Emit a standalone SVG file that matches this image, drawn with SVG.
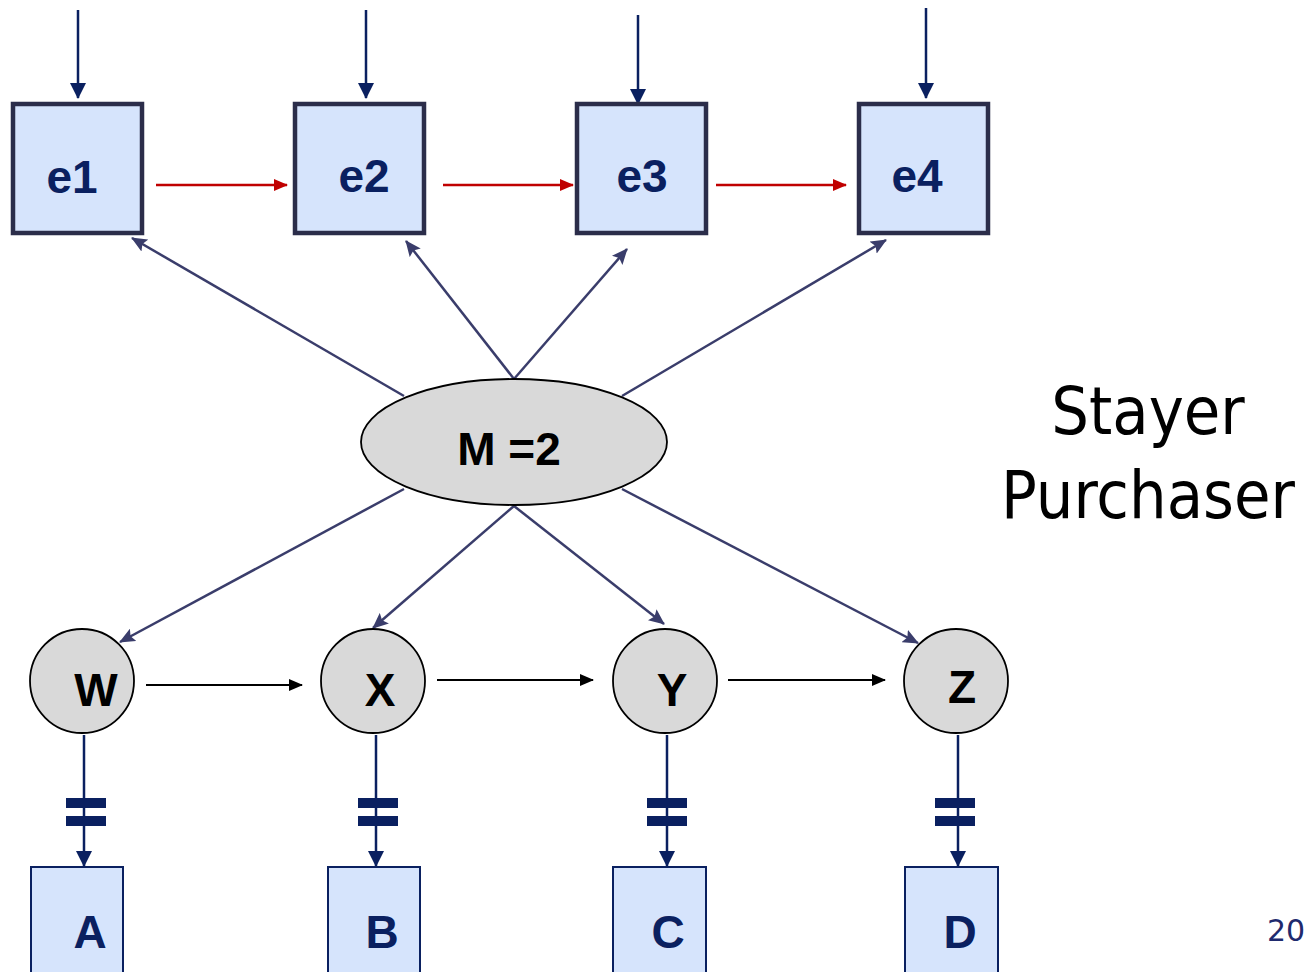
<svg xmlns="http://www.w3.org/2000/svg" width="1316" height="972" viewBox="0 0 1316 972">
  <style>
    .ebox { fill: #d6e4fc; stroke: #2b2d4a; stroke-width: 4.5; }
    .obox { fill: #d6e4fc; stroke: #0a2060; stroke-width: 2; }
    .lat { fill: #d9d9d9; stroke: #000; stroke-width: 1.8; }
    .lbl { font-family: "Liberation Sans", Arial, sans-serif; font-weight: bold; font-size: 46px; text-anchor: middle; }
    .navy { fill: #0a2060; }
    .blk { fill: #000; }
    .in { stroke: #0a2060; stroke-width: 2.5; fill: none; }
    .red { stroke: #c00000; stroke-width: 2.5; fill: none; }
    .slate { stroke: #3a3d6b; stroke-width: 2.5; fill: none; }
    .black { stroke: #000; stroke-width: 2.2; fill: none; }
    .bar { fill: #0a2060; }
  </style>
  <defs>
    <marker id="hNavy" markerUnits="userSpaceOnUse" markerWidth="16" markerHeight="16" refX="15" refY="8" orient="auto">
      <path d="M0,0 L16,8 L0,16 z" fill="#0a2060"/>
    </marker>
    <marker id="hRed" markerUnits="userSpaceOnUse" markerWidth="14" markerHeight="14" refX="13" refY="7" orient="auto">
      <path d="M0,1 L14,7 L0,13 z" fill="#c00000"/>
    </marker>
    <marker id="hSlate" markerUnits="userSpaceOnUse" markerWidth="16" markerHeight="14" refX="15" refY="7" orient="auto">
      <path d="M0,0 L16,7 L0,14 L3,7 z" fill="#3a3d6b"/>
    </marker>
    <marker id="hBlack" markerUnits="userSpaceOnUse" markerWidth="14" markerHeight="12" refX="13" refY="6" orient="auto">
      <path d="M0,0 L14,6 L0,12 z" fill="#000"/>
    </marker>
  </defs>

  <g id="connectors">
    <!-- incoming arrows on e boxes -->
    <line class="in" x1="78" y1="10" x2="78" y2="98" marker-end="url(#hNavy)"/>
    <line class="in" x1="366" y1="10" x2="366" y2="98" marker-end="url(#hNavy)"/>
    <line class="in" x1="638" y1="15" x2="638" y2="104" marker-end="url(#hNavy)"/>
    <line class="in" x1="926" y1="8" x2="926" y2="98" marker-end="url(#hNavy)"/>
    <!-- e chain -->
    <line class="red" x1="156" y1="185" x2="287" y2="185" marker-end="url(#hRed)"/>
    <line class="red" x1="443" y1="185" x2="573" y2="185" marker-end="url(#hRed)"/>
    <line class="red" x1="716" y1="185" x2="846" y2="185" marker-end="url(#hRed)"/>
    <!-- M to e boxes -->
    <line class="slate" x1="404" y1="396" x2="132" y2="238" marker-end="url(#hSlate)"/>
    <line class="slate" x1="514" y1="379" x2="406" y2="241" marker-end="url(#hSlate)"/>
    <line class="slate" x1="514" y1="379" x2="627" y2="249" marker-end="url(#hSlate)"/>
    <line class="slate" x1="622" y1="396" x2="886" y2="240" marker-end="url(#hSlate)"/>
    <!-- M to latent states -->
    <line class="slate" x1="404" y1="489" x2="120" y2="642" marker-end="url(#hSlate)"/>
    <line class="slate" x1="514" y1="506" x2="373" y2="628" marker-end="url(#hSlate)"/>
    <line class="slate" x1="514" y1="506" x2="664" y2="624" marker-end="url(#hSlate)"/>
    <line class="slate" x1="622" y1="489" x2="918" y2="643" marker-end="url(#hSlate)"/>
    <!-- latent chain -->
    <line class="black" x1="146" y1="685" x2="302" y2="685" marker-end="url(#hBlack)"/>
    <line class="black" x1="437" y1="680" x2="593" y2="680" marker-end="url(#hBlack)"/>
    <line class="black" x1="728" y1="680" x2="885" y2="680" marker-end="url(#hBlack)"/>
    <!-- latent to observed, with double bars -->
    <line class="in" x1="84" y1="735" x2="84" y2="866" marker-end="url(#hNavy)"/>
    <rect class="bar" x="66" y="798" width="40" height="10"/>
    <rect class="bar" x="66" y="816" width="40" height="10"/>
    <line class="in" x1="376" y1="735" x2="376" y2="866" marker-end="url(#hNavy)"/>
    <rect class="bar" x="358" y="798" width="40" height="10"/>
    <rect class="bar" x="358" y="816" width="40" height="10"/>
    <line class="in" x1="667" y1="735" x2="667" y2="866" marker-end="url(#hNavy)"/>
    <rect class="bar" x="647" y="798" width="40" height="10"/>
    <rect class="bar" x="647" y="816" width="40" height="10"/>
    <line class="in" x1="958" y1="735" x2="958" y2="866" marker-end="url(#hNavy)"/>
    <rect class="bar" x="935" y="798" width="40" height="10"/>
    <rect class="bar" x="935" y="816" width="40" height="10"/>
  </g>

  <g id="e1"><rect class="ebox" x="13" y="104" width="129" height="129"/><text class="lbl navy" x="72" y="193">e1</text></g>
  <g id="e2"><rect class="ebox" x="295" y="104" width="129" height="129"/><text class="lbl navy" x="364" y="192">e2</text></g>
  <g id="e3"><rect class="ebox" x="577" y="104" width="129" height="129"/><text class="lbl navy" x="642" y="192">e3</text></g>
  <g id="e4"><rect class="ebox" x="859" y="104" width="129" height="129"/><text class="lbl navy" x="917" y="192">e4</text></g>

  <g id="M"><ellipse class="lat" cx="514" cy="442" rx="153" ry="63"/><text class="lbl blk" x="509" y="465" font-size="47">M =2</text></g>

  <g id="W"><circle class="lat" cx="82" cy="681" r="52"/><text class="lbl blk" x="96" y="706">W</text></g>
  <g id="X"><circle class="lat" cx="373" cy="681" r="52"/><text class="lbl blk" x="380" y="706">X</text></g>
  <g id="Y"><circle class="lat" cx="665" cy="681" r="52"/><text class="lbl blk" x="672" y="706">Y</text></g>
  <g id="Z"><circle class="lat" cx="956" cy="681" r="52"/><text class="lbl blk" x="962" y="703">Z</text></g>

  <g id="A"><rect class="obox" x="31" y="867" width="92" height="120"/><text class="lbl navy" x="90" y="948">A</text></g>
  <g id="B"><rect class="obox" x="328" y="867" width="92" height="120"/><text class="lbl navy" x="382" y="948">B</text></g>
  <g id="C"><rect class="obox" x="613" y="867" width="93" height="120"/><text class="lbl navy" x="668" y="948">C</text></g>
  <g id="D"><rect class="obox" x="905" y="867" width="93" height="120"/><text class="lbl navy" x="960" y="948">D</text></g>

  <g id="title" font-family="'DejaVu Sans Condensed', 'DejaVu Sans', sans-serif" font-size="66" text-anchor="middle" fill="#000">
    <text x="1148" y="434">Stayer</text>
    <text x="1148" y="518">Purchaser</text>
  </g>
  <text x="1286" y="941" font-family="'DejaVu Sans', sans-serif" font-size="30" text-anchor="middle" fill="#1f2a6e">20</text>
</svg>
